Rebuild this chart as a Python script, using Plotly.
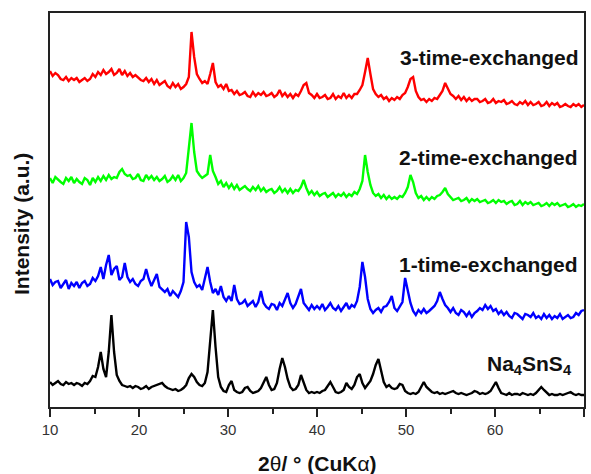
import plotly.graph_objects as go

# 2-theta grid (degrees), one reading every 0.3 deg
two_theta = [round(10 + 0.3 * k, 2) for k in range(201)]

# Intensities (a.u., stacked with offsets)
na4sns4 = [
    25, 22, 24, 26, 23, 22, 25, 23, 24, 22,
    24, 23, 21, 24, 23, 26, 31, 30, 40, 55,
    38, 30, 55, 92, 55, 32, 26, 22, 21, 20,
    21, 19, 21, 20, 18, 19, 21, 18, 20, 21,
    22, 23, 24, 21, 19, 18, 17, 18, 16, 17,
    19, 22, 29, 33, 30, 25, 22, 21, 24, 35,
    70, 97, 60, 30, 20, 16, 15, 22, 26, 17,
    15, 14, 15, 19, 20, 16, 14, 15, 16, 19,
    25, 30, 22, 17, 18, 24, 38, 49, 40, 28,
    20, 17, 18, 22, 32, 25, 17, 14, 15, 14,
    15, 14, 16, 17, 21, 25, 20, 15, 14, 15,
    17, 24, 20, 18, 22, 30, 33, 24, 19, 22,
    26, 33, 42, 48, 36, 25, 20, 22, 19, 18,
    19, 23, 22, 16, 14, 13, 14, 13, 15, 20,
    25, 20, 17, 15, 14, 15, 13, 14, 13, 14,
    15, 16, 14, 13, 14, 13, 12, 13, 14, 16,
    15, 13, 14, 13, 14, 16, 20, 25, 19, 14,
    13, 12, 14, 12, 13, 13, 12, 14, 13, 12,
    13, 12, 14, 17, 20, 17, 14, 12, 13, 12,
    12, 13, 12, 13, 14, 15, 13, 12, 13, 12,
    12,
]

exchanged_1 = [
    128, 122, 125, 126, 119, 123, 127, 118, 124, 121,
    125, 119, 124, 126, 121, 123, 129, 126, 131, 140,
    128, 142, 152, 132, 138, 141, 127, 130, 144, 130,
    125, 128, 123, 121, 126, 128, 138, 128, 121, 127,
    133, 120, 117, 115, 118, 111, 116, 113, 110, 116,
    125, 185, 170, 135, 125, 120, 122, 117, 128, 140,
    125, 114, 118, 112, 121, 110, 106, 111, 106, 122,
    108, 103, 104, 107, 101, 104, 106, 100, 105, 116,
    104, 100, 98, 103, 102, 97, 104, 101, 108, 114,
    104, 99, 103, 110, 118, 104, 100, 97, 102, 98,
    101, 98, 103, 97, 100, 104, 99, 97, 101, 96,
    100, 104, 98, 102, 100, 106, 120, 145, 130, 108,
    98, 94, 97, 99, 95, 100, 101, 105, 111, 99,
    96, 101, 105, 129, 115, 104, 96, 92, 97, 94,
    98, 94, 96, 99, 101, 106, 115, 108, 102, 99,
    95, 99, 94, 92, 97, 95, 91, 95, 90, 94,
    96, 99, 97, 102, 98, 101, 96, 98, 93, 96,
    92, 95, 91, 89, 94, 93, 90, 88, 93, 92,
    90, 94, 89, 91, 88, 93, 89, 92, 88, 91,
    89, 93, 88, 90, 92, 89, 90, 94, 92, 96,
    97,
]

exchanged_2 = [
    229, 224, 230, 227, 225, 223, 229, 226, 230, 224,
    228, 225, 223, 229, 227, 222, 229, 225, 230, 226,
    231, 227, 232, 228, 230, 229, 235, 238, 233, 231,
    232, 228, 229, 233, 227, 226, 232, 228, 231, 227,
    230, 226, 228, 231, 225, 227, 231, 227, 232, 226,
    229, 234, 258, 284, 255, 236, 232, 229, 231, 233,
    252, 236, 230, 223, 226, 220, 224, 219, 223, 218,
    222, 217, 219, 221, 218, 216, 220, 217, 221, 216,
    219, 215, 217, 218, 214, 216, 220, 215, 218, 214,
    218, 214, 217, 216, 220, 227, 219, 213, 216, 212,
    215, 211, 213, 214, 210, 212, 214, 210, 213, 211,
    214, 210, 213, 211, 215, 213, 218, 226, 252, 235,
    222, 214, 211, 213, 209, 212, 208, 211, 208, 210,
    208, 211, 210, 214, 220, 232, 225, 214, 209, 211,
    207, 210, 207, 210, 208, 211, 212, 215, 219, 213,
    210, 207, 208, 209, 206, 207, 209, 205, 208, 206,
    208, 205, 206, 207, 204, 205, 207, 204, 207, 205,
    206, 203, 205, 206, 202, 203, 206, 202, 205, 203,
    205, 202, 203, 204, 201, 202, 204, 201, 204, 202,
    204, 201, 202, 203, 200, 201, 203, 200, 202, 201,
    203,
]

exchanged_3 = [
    336, 331, 334, 332, 328, 327, 330, 326, 329, 327,
    329, 325, 327, 329, 326, 328, 333, 330, 335, 332,
    337, 333, 335, 338, 332, 334, 338, 332, 336, 331,
    334, 330, 332, 329, 327, 326, 329, 325, 328, 323,
    327, 322, 324, 326, 321, 319, 324, 320, 323, 318,
    320, 323, 330, 375, 350, 333, 328, 324, 326, 323,
    333, 344, 325, 320, 322, 318, 323, 316, 317, 313,
    316, 312, 313, 315, 311, 310, 315, 311, 314, 312,
    315, 311, 312, 314, 310, 312, 317, 311, 314, 310,
    313, 309, 313, 311, 316, 322, 324, 314, 312, 309,
    313, 309, 310, 312, 308, 309, 313, 308, 311, 309,
    314, 309, 312, 309, 313, 313, 317, 322, 335, 349,
    333, 318, 313, 310, 312, 308, 310, 306, 309, 307,
    310, 308, 312, 314, 320, 328, 330, 316, 310, 307,
    308, 305, 308, 306, 309, 308, 312, 316, 324, 318,
    313, 311, 308, 311, 307, 310, 306, 309, 306, 308,
    308, 305, 306, 308, 304, 305, 308, 304, 306, 305,
    307, 303, 304, 306, 303, 302, 305, 303, 306, 302,
    305, 302, 303, 305, 301, 302, 305, 301, 304, 302,
    304, 300, 301, 303, 301, 300, 303, 301, 303, 300,
    302,
]

series_names = ["Na4SnS4", "1-time-exchanged", "2-time-exchanged", "3-time-exchanged"]
series_values = [na4sns4, exchanged_1, exchanged_2, exchanged_3]
series_colors = ["#000000", "#0000ff", "#00ff00", "#ff0000"]

x_ticks = [10, 20, 30, 40, 50, 60, 70]

FONT = "Liberation Sans, Arial, sans-serif"

fig = go.Figure()
for name, vals, col in zip(series_names, series_values, series_colors):
    fig.add_trace(go.Scatter(
        x=two_theta, y=vals, mode="lines", name=name,
        line=dict(color=col, width=2.4), showlegend=False,
    ))

# plot box: x 50..584, y 13..407 px
def px_x(px):
    return (px - 50) / 534.0

def px_y(py):
    return (407 - py) / 394.0

label_style = dict(family=FONT, size=21, color="#111111")
annotations = [
    dict(text="<b>3-time-exchanged</b>", x=px_x(581), y=px_y(58), xanchor="right", yanchor="middle"),
    dict(text="<b>2-time-exchanged</b>", x=px_x(580), y=px_y(157), xanchor="right", yanchor="middle"),
    dict(text="<b>1-time-exchanged</b>", x=px_x(580), y=px_y(264), xanchor="right", yanchor="middle"),
    dict(text="<b>Na<sub>4</sub>SnS<sub>4</sub></b>", x=px_x(574), y=px_y(365), xanchor="right", yanchor="middle"),
    dict(text="<b>Intensity (a.u.)</b>", x=px_x(21), y=px_y(224), xanchor="center", yanchor="middle", textangle=-90),
    dict(text="<b>2</b>θ<b>/ ° (CuK</b>α<b>)</b>", x=px_x(317), y=px_y(463), xanchor="center", yanchor="middle"),
]
for a in annotations:
    a.update(xref="paper", yref="paper", showarrow=False, font=label_style)

fig.update_layout(
    width=591, height=474, autosize=False,
    margin=dict(l=50, r=7, t=13, b=67, autoexpand=False),
    paper_bgcolor="white", plot_bgcolor="white",
    annotations=annotations,
    xaxis=dict(
        range=[10, 70], tickvals=x_ticks, ticktext=[str(t) for t in x_ticks],
        showline=True, mirror=True, linecolor="#222222", linewidth=2,
        ticks="outside", ticklen=8, tickwidth=1.5, tickcolor="#222222",
        minor=dict(ticks="outside", ticklen=5, tickwidth=1.5, dtick=5, tickcolor="#222222", showgrid=False),
        showgrid=False, zeroline=False, automargin=False,
        tickfont=dict(family=FONT, size=15, color="#333333"),
    ),
    yaxis=dict(
        range=[0, 394], showline=True, mirror=True, linecolor="#222222", linewidth=2,
        ticks="", showticklabels=False, showgrid=False, zeroline=False, automargin=False,
    ),
)

# remove the default page margin / scrollbars so the 591x474 figure fills the window exactly
fig.write_html(
    "out.html",
    config={"displayModeBar": False, "responsive": False},
    post_script="document.body.style.margin='0';document.body.style.overflow='hidden';"
                "document.documentElement.style.overflow='hidden';",
)
